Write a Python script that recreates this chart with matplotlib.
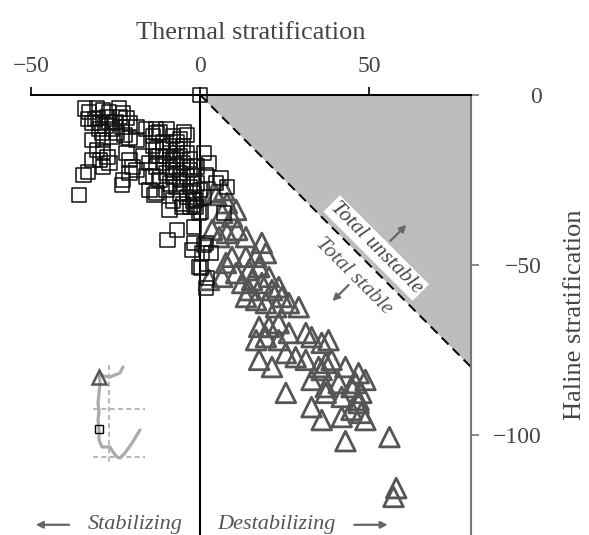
import numpy as np
import matplotlib

matplotlib.use("Agg")
import matplotlib.pyplot as plt

plt.rcParams["font.family"] = ["Liberation Serif", "DejaVu Serif"]

# squares: near-surface / upper layer
sq_x = [
    0.0,
    -32.9, -30.6, -28.8, -30.3, -29.7, -31.8, -27.6, -26.8, -23.8, -22.9, -21.8, -20.9, -18.8,
    -23.2, -24.7, -22.4, -31.8, -28.8, -25.9, -20.9, -18.8, -30.6, -28.8, -27.4, -29.7, -26.8,
    -31.8, -28.8, -33.2, -34.5, -21.8, -20.9, -20.0, -20.9, -18.8, -22.9, -23.2, -35.9,
    -30.0, -28.0, -26.0, -29.0, -25.0, -31.0, -27.0, -24.0, -33.0, -34.0,
    -16.0, -17.0, -16.0, -13.0, -14.0, -13.0, -12.9, -15.0,
    -14.0, -12.0, -10.0, -8.0, -6.0, -11.0, -9.0, -7.0, -5.0, -13.0, -12.0, -10.0, -8.0, -6.0,
    -4.0, -3.0, -11.0, -9.0, -7.0, -5.0, -3.0, -1.0, -13.0, -10.0, -8.0, -6.0, -4.0, -2.0,
    -12.0, -9.0, -7.0, -5.0, -3.0, -1.0, -10.0, -6.0, -4.0, -2.0, 0.0, -8.0, -5.0, -3.0,
    -14.0, -15.0, -9.0, -7.0, -11.0, -4.0, -6.0, -8.0, -2.0, 1.0,
    -12.9, -4.7, -3.8, 1.2, 2.6, 6.2, 4.7, 7.9, 1.8, -13.5, -9.1, 0.3, -1.2,
    -5.3, -1.8, -0.3, -9.7, -6.8, -1.8, -1.8, 1.8, -2.4, 0.6, -0.3, 2.1, 1.8,
    7.1, -1.2, 1.2, 3.2, 0.3,
]
sq_y = [
    0.0,
    -5.0, -3.8, -4.4, -6.8, -8.2, -8.2, -6.5, -7.9, -6.5, -5.3, -6.8, -8.2, -9.4,
    -9.4, -11.2, -11.8, -13.2, -13.2, -12.4, -12.6, -13.2, -16.2, -16.8, -18.2, -19.1, -20.0,
    -19.1, -21.2, -22.6, -23.5, -17.1, -19.1, -21.2, -22.9, -22.1, -25.0, -26.5, -29.4,
    -10.0, -9.0, -10.0, -11.0, -8.0, -7.0, -5.0, -4.0, -7.0, -4.0,
    -10.0, -18.0, -24.0, -10.0, -15.0, -18.0, -28.8, -28.0,
    -12.0, -11.0, -10.0, -12.0, -13.0, -14.0, -15.0, -16.0, -15.0, -16.0, -18.0, -18.0, -19.0, -18.0,
    -17.0, -19.0, -20.0, -21.0, -21.0, -20.0, -22.0, -21.0, -21.0, -23.0, -24.0, -23.0, -24.0, -24.0,
    -25.0, -26.0, -27.0, -26.0, -27.0, -26.0, -28.0, -29.0, -30.0, -29.0, -28.0, -31.0, -32.0, -33.0,
    -24.0, -20.0, -17.0, -14.0, -16.0, -21.0, -25.0, -22.0, -31.0, -30.0,
    -11.2, -10.9, -11.8, -17.1, -20.0, -24.4, -25.9, -27.1, -23.5, -29.4, -33.8, -34.4, -32.9,
    -32.9, -32.4, -34.7, -42.6, -39.7, -38.8, -43.5, -43.5, -45.6, -46.5, -50.6, -53.8, -56.8,
    -34.7, -30.9, -44.1, -46.5, -50.9,
]

# triangles: deeper layer
tri_x = [
    6.5, 9.4, 10.6, 3.5, 5.6, 7.9, 10.9, 13.5, 18.2, 19.4, 16.5, 13.5, 9.4, 7.6,
    2.6, 6.5, 10.6, 14.4, 17.4, 12.4, 15.3, 18.2, 20.3, 23.2, 24.1, 26.2, 29.1,
    13.5, 16.5, 19.4, 22.4, 17.4, 20.3, 23.2, 16.5, 19.4, 23.2, 26.2, 31.2, 32.9,
    35.9, 37.9, 17.4, 21.2, 25.3, 28.2, 31.2, 35.0, 38.8, 42.9, 46.8, 48.8,
    25.3, 32.9, 37.1, 40.9, 44.7, 32.9, 37.1, 41.8, 46.8, 47.6, 44.7, 35.9, 41.8, 48.8,
    42.9, 55.9, 57.9, 57.1, 14.4, 21.2, 45.9, 47.6, 46.8, 35.9, 37.1,
    4.7, 7.1, 4.1, 7.9,
]
tri_y = [
    -34.7, -35.9, -33.8, -39.7, -41.8, -40.6, -39.7, -41.8, -43.5, -46.5, -47.6, -47.6, -47.6, -49.4,
    -54.4, -53.5, -52.4, -51.5, -50.6, -55.3, -54.4, -55.3, -53.5, -56.5, -59.4, -61.2, -62.4,
    -59.4, -60.3, -61.2, -62.4, -68.2, -68.2, -67.1, -72.1, -71.2, -72.1, -70.0, -70.0, -71.2,
    -72.9, -72.1, -77.9, -80.0, -75.9, -77.1, -77.9, -80.0, -77.9, -80.0, -81.8, -83.8,
    -87.6, -83.8, -85.9, -84.7, -85.9, -91.8, -87.6, -88.8, -89.7, -93.5, -92.6, -95.6, -94.7, -95.6,
    -101.8, -100.6, -115.6, -118.2, -57.4, -57.4, -84.7, -87.6, -90.6, -80.9, -78.8,
    -29.4, -28.0, -28.5, -31.8,
]

# inset profile (local units, depth downward)
prof_x = [35, 32, 22, 15, 11, 12, 11, 10, 11, 10, 11, 11, 14, 22, 25, 29, 32, 37, 44, 52]
prof_z = [9, 15, 19, 18, 15, 25, 35, 45, 54, 62, 72, 82, 89, 89, 94, 99, 100, 95, 85, 72]

XLIM = (-50, 80)
YLIM = (-129.4, 0)
TXT = "#444444"

fig = plt.figure(figsize=(5.89, 5.35), dpi=100)
ax = fig.add_axes([31 / 589, 0.0, 440 / 589, 1 - 95 / 535])

# unstable wedge
ax.fill([0, XLIM[1], XLIM[1]], [0, 0, -XLIM[1]], color="#bdbdbd", lw=0, zorder=0)
ax.plot([0, XLIM[1]], [0, -XLIM[1]], color="black", lw=1.4, ls=(0, (5, 3)), zorder=1)
ax.axvline(0, color="black", lw=1.5, zorder=1)

ax.scatter(tri_x, tri_y, marker="^", s=200, facecolors="none",
           edgecolors="#555555", linewidths=2.0, zorder=2)
ax.scatter(sq_x, sq_y, marker="s", s=105, facecolors="none",
           edgecolors="#111111", linewidths=1.1, zorder=3, clip_on=False)

ax.set_xlim(*XLIM)
ax.set_ylim(*YLIM)

for side in ["left", "bottom"]:
    ax.spines[side].set_visible(False)
ax.spines["top"].set_color("black")
ax.spines["top"].set_linewidth(1.4)
ax.spines["right"].set_color("#777777")
ax.spines["right"].set_linewidth(1.5)

ax.xaxis.tick_top()
ax.xaxis.set_label_position("top")
ax.set_xticks([-50, 0, 50])
ax.set_xticklabels(["\u221250", "0", "50"])
ax.tick_params(axis="x", direction="out", length=6, width=1.2, color="black",
               labelsize=17, labelcolor=TXT, pad=7)
ax.set_xlabel("Thermal stratification", fontsize=19, color=TXT, labelpad=12)

ax.yaxis.tick_right()
ax.yaxis.set_label_position("right")
ax.set_yticks([0, -50, -100])
ax.set_yticklabels(["0", "\u221250", "\u2212100"])
ax.tick_params(axis="y", direction="out", length=6, width=1.2, color="#777777",
               labelsize=17, labelcolor=TXT, pad=45)
for lbl in ax.get_yticklabels():
    lbl.set_horizontalalignment("right")
ax.set_ylabel("Haline stratification", fontsize=19, color=TXT, labelpad=16)

# regime labels along the neutral line
ax.text(52, -45, "Total unstable", rotation=-45, rotation_mode="anchor",
        ha="center", va="center", fontsize=15.5, style="italic", color=TXT,
        bbox={"boxstyle": "square,pad=0.1", "facecolor": "white", "edgecolor": "none"})
ax.text(45.3, -53.2, "Total stable", rotation=-45, rotation_mode="anchor",
        ha="center", va="center", fontsize=15.5, style="italic", color="#555555")
arrow = {"arrowstyle": "-|>,head_length=0.4,head_width=0.2", "color": "#666666", "lw": 1.6}
ax.annotate("", xy=(61.5, -37.6), xytext=(55.6, -43.5), arrowprops=arrow)
ax.annotate("", xy=(38.5, -61.2), xytext=(44.4, -55.3), arrowprops=arrow)

# bottom direction labels
ax.text(-19.1, -126.4, "Stabilizing", ha="center", va="center", fontsize=16,
        style="italic", color="#555555", clip_on=False)
ax.text(22.4, -126.4, "Destabilizing", ha="center", va="center", fontsize=16,
        style="italic", color="#555555", clip_on=False)
ax.annotate("", xy=(-49.4, -126.4), xytext=(-37.9, -126.4), arrowprops=arrow, annotation_clip=False)
ax.annotate("", xy=(56.2, -126.4), xytext=(44.7, -126.4), arrowprops=arrow, annotation_clip=False)

# inset profile sketch
ins = fig.add_axes([88 / 589, 1 - 468 / 535, 62 / 589, 110 / 535])
ins.set_xlim(0, 62)
ins.set_ylim(110, 0)
ins.axis("off")
ins.plot([21, 21], [7, 107], color="#aaaaaa", lw=1.2, ls=(0, (3, 2)))
ins.plot([5, 57], [51, 51], color="#aaaaaa", lw=1.2, ls=(0, (3, 2)))
ins.plot([5, 57], [99, 99], color="#aaaaaa", lw=1.2, ls=(0, (3, 2)))
ins.plot(prof_x, prof_z, color="#aaaaaa", lw=2.3, solid_capstyle="round")
ins.plot([11], [19], marker="^", ms=10, mfc="none", mec="#555555", mew=1.8)
ins.plot([11], [71], marker="s", ms=6, mfc="none", mec="black", mew=1.0)

fig.savefig("out.png", dpi=100)
